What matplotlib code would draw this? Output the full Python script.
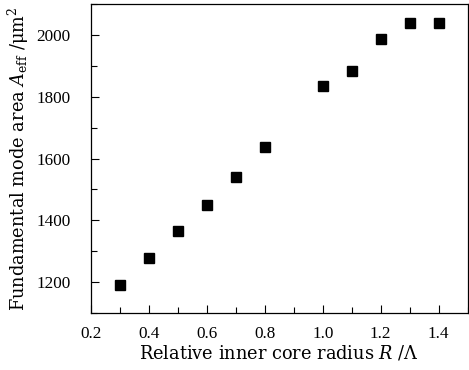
import matplotlib
matplotlib.use("Agg")
import matplotlib.pyplot as plt
from matplotlib.ticker import MultipleLocator

# inner core radius (R / Lambda) and fundamental mode area (um^2)
radius = [0.3, 0.4, 0.5, 0.6, 0.7, 0.8, 1.0, 1.1, 1.2, 1.3, 1.4]
area = [1192, 1279, 1365, 1449, 1541, 1637, 1834, 1883, 1987, 2040, 2040]

plt.rcParams["font.family"] = ["DejaVu Serif"]
plt.rcParams["mathtext.fontset"] = "dejavuserif"

fig = plt.figure(figsize=(4.69, 3.70), dpi=100)
ax = fig.add_axes([0.194, 0.154, 0.803, 0.835])

ax.plot(radius, area, "s", color="black", markersize=7.5, linestyle="none")

ax.set_xlim(0.2, 1.5)
ax.set_ylim(1100, 2100)
ax.xaxis.set_major_locator(MultipleLocator(0.2))
ax.xaxis.set_minor_locator(MultipleLocator(0.1))
ax.yaxis.set_major_locator(MultipleLocator(200))
ax.yaxis.set_minor_locator(MultipleLocator(100))
ax.xaxis.set_major_formatter(plt.FuncFormatter(lambda v, p: f"{v:.1f}"))

ax.tick_params(which="both", direction="in", top=False, right=False,
               width=0.8)
ax.tick_params(which="major", length=6)
ax.tick_params(which="minor", length=4)
ax.tick_params(axis="x", which="major", pad=9.5)
ax.tick_params(axis="y", which="major", pad=14.5)
for lbl in ax.get_xticklabels() + ax.get_yticklabels():
    lbl.set_fontfamily("Liberation Serif")
    lbl.set_fontsize(12.3)
for s in ax.spines.values():
    s.set_linewidth(0.9)

ax.set_xlabel(r"Relative inner core radius $R$ /$\Lambda$", fontsize=12.8, labelpad=1)
ax.set_ylabel(r"Fundamental mode area $A_{\rm eff}$ /$\mathrm{\mu m^2}$",
              fontsize=12.8, labelpad=4)

fig.savefig("out.png", dpi=100)
